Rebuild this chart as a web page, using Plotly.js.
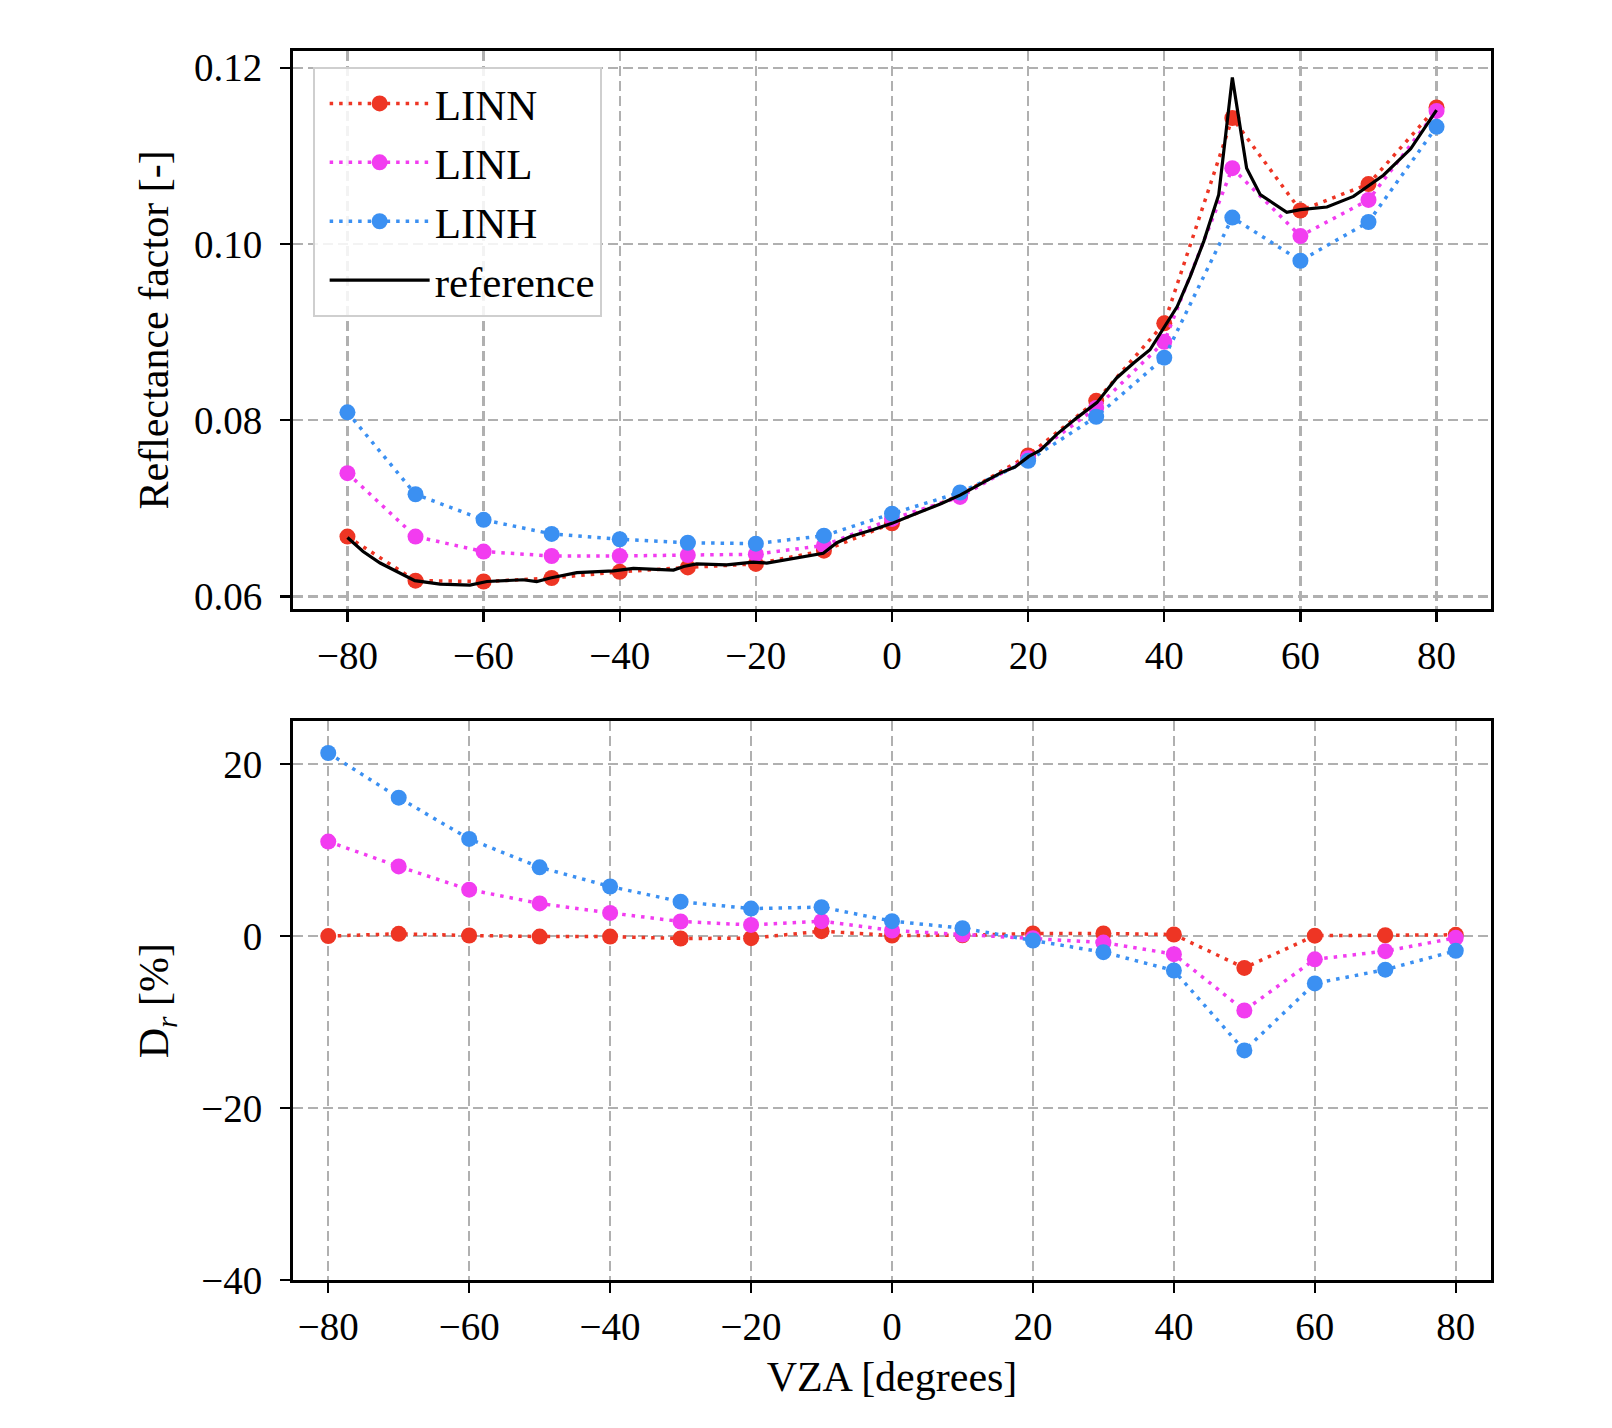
<!DOCTYPE html>
<html>
<head>
<meta charset="utf-8">
<script src="https://cdn.plot.ly/plotly-3.0.1.min.js"></script>
<style>html,body{margin:0;padding:0;background:#fff;}</style>
</head>
<body>
<div id="chart" style="width:1612px;height:1428px;"></div>
<script>
// View zenith angles (degrees)
const vza = [-80,-70,-60,-50,-40,-30,-20,-10,0,10,20,30,40,50,60,70,80];

// Reflectance factor [-]
const rfLINN = [0.0668,0.0618,0.0617,0.0621,0.0628,0.0633,0.0637,0.0652,0.0683,0.0715,0.0760,0.0822,0.0910,0.1143,0.1038,0.1068,0.1155];
const rfLINL = [0.0740,0.0668,0.0651,0.0646,0.0646,0.0647,0.0648,0.0658,0.0688,0.0713,0.0757,0.0814,0.0889,0.1086,0.1009,0.1050,0.1151];
const rfLINH = [0.0809,0.0716,0.0687,0.0671,0.0665,0.0661,0.0660,0.0669,0.0694,0.0718,0.0754,0.0804,0.0871,0.1030,0.0981,0.1025,0.1133];

// Reference curve
const refVZA = [-80,-77.7,-75.2,-70.1,-66.4,-62.0,-59.5,-54.2,-52.2,-50.2,-46.3,-40.9,-38.0,-32.1,-30.6,-28.7,-24.3,-20.4,-18.4,-14.0,-10.1,-8.1,-6.1,-2.7,0,3.2,7.1,10.0,13.0,15.9,18.1,20.1,21.8,24.2,27.2,30.1,33.0,35.5,37.9,39.9,41.9,43.8,45.8,48.0,50.0,52.1,54.1,58.0,60.0,63.9,67.8,72.2,76.2,80.0];
const refRF  = [0.0667,0.0651,0.0638,0.0618,0.0614,0.0613,0.0617,0.0619,0.0617,0.0621,0.0627,0.0629,0.0632,0.0630,0.0634,0.0637,0.0636,0.0639,0.0638,0.0644,0.0649,0.0661,0.0668,0.0676,0.0683,0.0693,0.0705,0.0715,0.0728,0.0740,0.0747,0.0759,0.0766,0.0784,0.0803,0.0820,0.0848,0.0865,0.0880,0.0905,0.0929,0.0963,0.1003,0.1056,0.1189,0.1086,0.1056,0.1036,0.1039,0.1042,0.1054,0.1078,0.1108,0.1152];

// Relative difference D_r [%]
const drLINN = [0.0,0.27,0.07,-0.05,-0.05,-0.28,-0.24,0.57,0.07,0.1,0.3,0.3,0.19,-3.7,0.05,0.1,0.15];
const drLINL = [11.0,8.1,5.4,3.8,2.7,1.7,1.3,1.74,0.65,0.19,-0.25,-0.75,-2.1,-8.65,-2.7,-1.75,-0.2];
const drLINH = [21.3,16.1,11.3,8.0,5.77,4.0,3.2,3.37,1.74,0.92,-0.51,-1.87,-4.0,-13.3,-5.5,-3.9,-1.7];

const seriesNames = ['LINN','LINL','LINH'];
const colors = ['#ee3524','#f23cf0','#3b90f2'];
const rfSeries = [rfLINN, rfLINL, rfLINH];
const drSeries = [drLINN, drLINL, drLINH];

const dotLine = (c) => ({color:c, width:3.5, dash:'3.5px,6px'});

const traces = [];
seriesNames.forEach((n,i)=>{
  traces.push({x: vza, y: rfSeries[i], name: n, type:'scatter', mode:'lines+markers',
    xaxis:'x', yaxis:'y',
    line:dotLine(colors[i]), marker:{color:colors[i], size:16}});
});
traces.push({x: refVZA, y: refRF, name:'reference', type:'scatter', mode:'lines',
  xaxis:'x', yaxis:'y', line:{color:'#000', width:3.2}});
seriesNames.forEach((n,i)=>{
  traces.push({x: vza, y: drSeries[i], name: n, type:'scatter', mode:'lines+markers',
    xaxis:'x2', yaxis:'y2', showlegend:false,
    line:dotLine(colors[i]), marker:{color:colors[i], size:16}});
});

const common = {
  showgrid:true, gridcolor:'#b0b0b0', gridwidth:2.2, griddash:'10px,5px',
  zeroline:false, showline:true, linecolor:'#000', linewidth:3, mirror:true,
  ticks:'outside', ticklen:10, tickwidth:2.2, tickcolor:'#000',
  tickfont:{size:39, color:'#000'}
};
const tickX = [-80,-60,-40,-20,0,20,40,60,80];

const layout = {
  width:1612, height:1428,
  margin:{l:293, r:121, t:51, b:148},
  paper_bgcolor:'#fff', plot_bgcolor:'#fff',
  font:{family:'"Liberation Serif", "Times New Roman", serif', size:39, color:'#000'},
  showlegend:true,
  legend:{x:0.0164, y:0.987, xanchor:'left', yanchor:'top',
    bgcolor:'rgba(255,255,255,0.85)', bordercolor:'#cfcfcf', borderwidth:2,
    font:{size:43}, itemwidth:100, indentation:10, tracegroupgap:0},
  xaxis: Object.assign({}, common, {anchor:'y', domain:[0,1], range:[-88,88],
    tickmode:'array', tickvals:tickX, ticklabelstandoff:0}),
  yaxis: Object.assign({}, common, {anchor:'x', domain:[0.5461,1], range:[0.0586,0.1219],
    tickmode:'linear', tick0:0, dtick:0.02, tickformat:'.2f', ticklabelstandoff:10,
    title:{text:'Reflectance factor [-]', font:{size:42}, standoff:13}}),
  xaxis2: Object.assign({}, common, {anchor:'y2', domain:[0,1], range:[-85,85],
    tickmode:'array', tickvals:tickX, ticklabelstandoff:0,
    title:{text:'VZA [degrees]', font:{size:42}, standoff:15}}),
  yaxis2: Object.assign({}, common, {anchor:'x2', domain:[0,0.4547], range:[-40,25],
    tickmode:'linear', tick0:0, dtick:20, ticklabelstandoff:10,
    title:{text:'D<sub><i>r</i></sub> [%]', font:{size:42}, standoff:20}})
};

Plotly.newPlot('chart', traces, layout, {displayModeBar:false, staticPlot:true});
</script>
</body>
</html>
